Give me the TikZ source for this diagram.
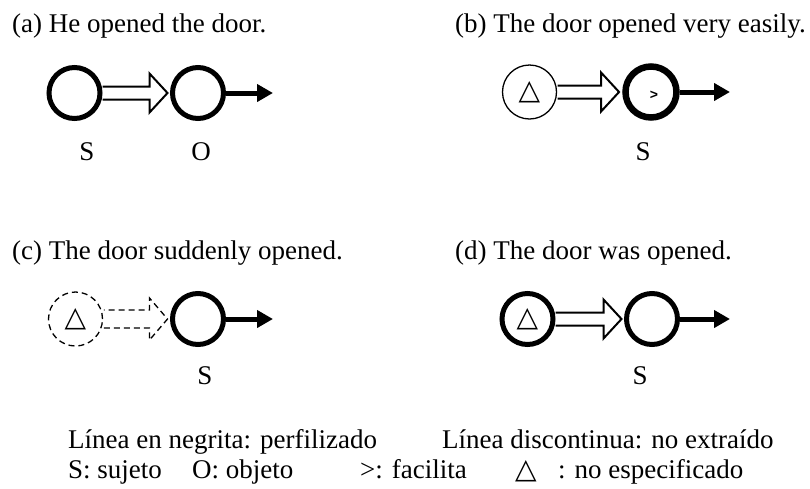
\documentclass[tikz,border=0pt]{standalone}
\usepackage{fontspec}
\setmainfont{Liberation Serif}
\newfontfamily\symfont{DejaVu Sans}
\newfontfamily\gtfont{Liberation Sans}
\usetikzlibrary{arrows.meta,calc}
\begin{document}
\begin{tikzpicture}[x=1pt,y=-1pt,
  txt/.style={font=\fontsize{27}{31}\selectfont, inner sep=0pt},
  ttl/.style={txt, anchor=base west},
  lbl/.style={txt, anchor=base},
  bold circ/.style={circle, draw, line width=5pt, minimum size=51pt, inner sep=0pt},
  heavy circ/.style={circle, draw, line width=6.5pt, minimum size=51pt, inner sep=0pt},
  thin circ/.style={circle, draw, line width=1.3pt, minimum size=54pt, inner sep=0pt},
  dash circ/.style={circle, draw, line width=1.3pt, dash pattern=on 6pt off 4pt, minimum size=54pt, inner sep=0pt},
  tri/.style={font=\symfont\fontsize{28}{28}\selectfont, inner sep=0pt},
  outarrow/.style={line width=5pt, -{Triangle[length=16pt,width=17pt]}},
  hollow/.style={line width=2pt, line join=miter},
  dashed hollow/.style={line width=1.3pt, dash pattern=on 6pt off 4pt},
]
\useasboundingbox (0,0) rectangle (810,488);

% (a) He opened the door
\node[ttl] (ta) at (12,32) {(a) He opened the door.};
\node[bold circ] (a1) at (74.5,93) {};
\node[bold circ] (a2) at (198,93) {};
\node[lbl] (aS) at (87,160) {S};
\node[lbl] (aO) at (201,160) {O};

% (b) The door opened very easily
\node[ttl] (tb) at (455,32) {(b) The door opened very easily.};
\node[thin circ] (b1) at (529.5,92) {};
\node[tri] (b1t) at (b1.center) {△};
\node[heavy circ] (b2) at (651,92) {};
\node[font=\gtfont\bfseries\fontsize{14}{14}\selectfont, inner sep=0pt] (b2t) at (654,95) {>};
\node[lbl] (bS) at (643,160) {S};

% (c) The door suddenly opened
\node[ttl] (tc) at (12,259) {(c) The door suddenly opened.};
\node[dash circ] (c1) at (75.5,319) {};
\node[tri] (c1t) at (c1.center) {△};
\node[bold circ] (c2) at (198,319) {};
\node[lbl] (cS) at (205,384) {S};

% (d) The door was opened
\node[ttl] (td) at (455,259) {(d) The door was opened.};
\node[bold circ] (d1) at (527.5,319) {};
\node[tri] (d1t) at (d1.center) {△};
\node[bold circ] (d2) at (652,319) {};
\node[lbl] (dS) at (640,384) {S};

% block arrows from circle to circle (shaft 6.5, head 19.5, head length 18)
\draw[hollow] let \p1=(a1.east), \p2=($(a2.west)+(-2.5,0)$) in
  (\x1,\y1-6.5) -- (\x2-18,\y1-6.5) -- (\x2-18,\y1-19.5) -- (\x2,\y1)
    -- (\x2-18,\y1+19.5) -- (\x2-18,\y1+6.5) -- (\x1,\y1+6.5);
\draw[hollow] let \p1=($(b1.east)+(0.4,0)$), \p2=($(b2.west)+(-3.2,0)$) in
  (\x1,\y1-6.5) -- (\x2-18,\y1-6.5) -- (\x2-18,\y1-19.5) -- (\x2,\y1)
    -- (\x2-18,\y1+19.5) -- (\x2-18,\y1+6.5) -- (\x1,\y1+6.5);
\draw[dashed hollow] let \p1=($(c1.east)+(0.6,0)$), \p2=($(c2.west)+(-2.5,0)$) in
  (\x1,\y1-9) -- (\x2-18,\y1-9) -- (\x2-18,\y1-21) -- (\x2,\y1)
    -- (\x2-18,\y1+21) -- (\x2-18,\y1+9) -- (\x1,\y1+9);
\draw[hollow] let \p1=(d1.east), \p2=($(d2.west)+(-2.5,0)$) in
  (\x1,\y1-6.5) -- (\x2-18,\y1-6.5) -- (\x2-18,\y1-19.5) -- (\x2,\y1)
    -- (\x2-18,\y1+19.5) -- (\x2-18,\y1+6.5) -- (\x1,\y1+6.5);

% outgoing arrows
\coordinate (ea) at (273,93);
\coordinate (eb) at (730,92);
\coordinate (ec) at (273,319);
\coordinate (ed) at (730,319);
\draw[outarrow] (a2.east) -- (ea);
\draw[outarrow] (b2.east) -- (eb);
\draw[outarrow] (c2.east) -- (ec);
\draw[outarrow] (d2.east) -- (ed);

% legend
\node[ttl] (l1) at (68,448) {Línea en negrita: perfilizado};
\node[ttl] (l2) at (442,448) {Línea discontinua: no extraído};
\node[ttl] (l3) at (68,478) {S: sujeto};
\node[ttl] (l4) at (192,478) {O: objeto};
\node[ttl] (l5) at (360,478) {>: facilita};
\node[tri, anchor=base west] (l6) at (515,478) {△};
\node[ttl] (l7) at (558,478) {: no especificado};
\end{tikzpicture}
\end{document}
